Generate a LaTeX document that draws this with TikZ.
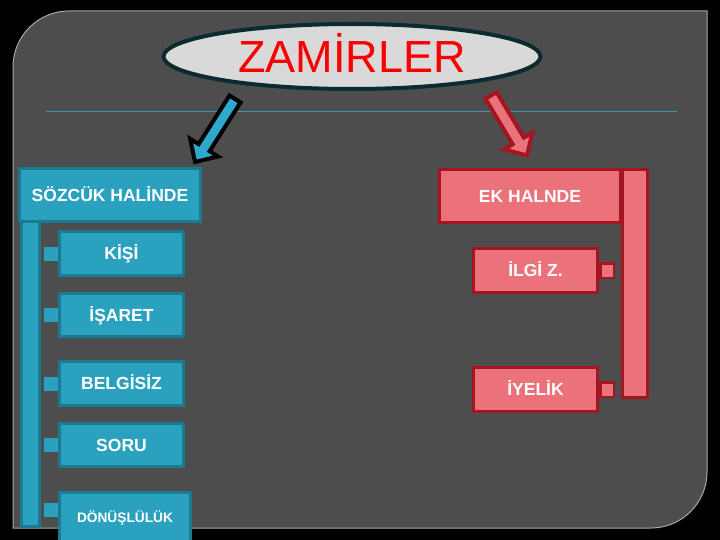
\documentclass[tikz,border=0pt]{standalone}
\usepackage{fontspec}
\setmainfont{Liberation Sans}
\usetikzlibrary{calc,shapes.geometric}
\definecolor{panelgray}{HTML}{4D4D4D}
\definecolor{panelline}{HTML}{A8A8A8}
\definecolor{tealfill}{HTML}{2BA1C0}
\definecolor{tealborder}{HTML}{1D7892}
\definecolor{pinkfill}{HTML}{EB717A}
\definecolor{redborder}{HTML}{A31621}
\definecolor{ellfill}{HTML}{D9D9D9}
\definecolor{ellborder}{HTML}{0D2A30}
\definecolor{arrowblue}{HTML}{2EA8CC}
\definecolor{hlinecol}{HTML}{3C97A6}
\definecolor{titlered}{HTML}{FA0000}
\begin{document}
\begin{tikzpicture}[x=1pt,y=-1pt,
  panel/.style={fill=panelgray,draw=panelline,line width=1pt},
  hline/.style={draw=hlinecol,line width=1pt},
  titleell/.style={ellipse,fill=ellfill,draw=ellborder,line width=4pt,
    minimum width=377pt,minimum height=65pt,inner sep=0pt,
    text=titlered,font=\fontsize{45}{50}\selectfont,text height=32pt,text depth=0pt},
  boxtext/.style={text=white,inner sep=0pt,text depth=0pt,
    font=\fontsize{17.5}{20}\selectfont\bfseries,text height=12.5pt},
  tealbox/.style={boxtext,fill=tealfill,draw=tealborder,line width=3pt},
  pinkbox/.style={boxtext,fill=pinkfill,draw=redborder,line width=3pt},
  tealbar/.style={fill=tealfill,draw=tealborder,line width=3pt},
  pinkbar/.style={fill=pinkfill,draw=redborder,line width=3pt},
  lsq/.style={fill=tealfill,inner sep=0pt,minimum width=14pt,minimum height=14pt},
  rsq/.style={fill=pinkfill,draw=redborder,line width=2.5pt,inner sep=0pt,
    minimum width=13.5pt,minimum height=14.5pt},
  arrL/.style={fill=arrowblue,draw=black,line width=4pt,line join=miter},
  arrR/.style={fill=pinkfill,draw=redborder,line width=4pt,line join=miter}
]
\clip (0,0) rectangle (720,540);
\fill[black] (0,0) rectangle (720,540);
% panel
\draw[panel] (13,528) -- (13,67) .. controls (13,36.1) and (38.1,11) .. (69,11)
  -- (707,11) -- (707,472) .. controls (707,502.9) and (681.9,528) .. (651,528) -- cycle;
\draw[hline] (46,112) -- (677,112);

% title
\node[titleell] (title) at (352,56.5) {ZAMİRLER};

% left column
\draw[tealbar] (21.5,222) rectangle (39.5,526);
\node[tealbox,minimum width=181pt,minimum height=53pt] (soz) at (110,195) {SÖZCÜK HALİNDE};
\node[tealbox,minimum width=124pt,minimum height=44pt] (kisi) at (121.5,253.5) {KİŞİ};
\node[tealbox,minimum width=124pt,minimum height=43pt] (isaret) at (121.5,315) {İŞARET};
\node[tealbox,minimum width=124pt,minimum height=44pt] (belgisiz) at (121.5,383.5) {BELGİSİZ};
\node[tealbox,minimum width=124pt,minimum height=43pt] (soru) at (121.5,445) {SORU};
\node[tealbox,minimum width=131pt,minimum height=51pt,
  font=\fontsize{13.7}{16}\selectfont\bfseries,text height=9.8pt] (donus) at (125,518) {DÖNÜŞLÜLÜK};
\node[lsq,anchor=east] (sq1) at (kisi.west) {};
\node[lsq,anchor=east] (sq2) at (isaret.west) {};
\node[lsq,anchor=east] (sq3) at (belgisiz.west) {};
\node[lsq,anchor=east] (sq4) at (soru.west) {};
\node[lsq,anchor=east] (sq5) at ([yshift=8pt]donus.west) {};

% right column
\draw[pinkbar] (622.5,169.5) rectangle (647.5,397.5);
\node[pinkbox,minimum width=181pt,minimum height=53pt] (ek) at (530,196) {EK HALNDE};
\node[pinkbox,minimum width=124pt,minimum height=44pt] (ilgi) at (535.5,270.5) {İLGİ Z.};
\node[pinkbox,minimum width=124pt,minimum height=44pt] (iyelik) at (535.5,389.5) {İYELİK};
\node[rsq,anchor=west] (rsq1) at (ilgi.east) {};
\node[rsq,anchor=west] (rsq2) at (iyelik.east) {};

% arrows
\coordinate (lat) at (235,99);
\coordinate (lap) at (195,162);
\coordinate (lab) at ($(lap)!17pt!(lat)$);
\draw[arrL] ($(lat)!6.5pt!90:(lap)$) -- ($(lab)!6.5pt!-90:(lat)$) -- ($(lab)!16.5pt!-90:(lat)$)
  -- (lap) -- ($(lab)!16.5pt!90:(lat)$) -- ($(lab)!6.5pt!90:(lat)$) -- ($(lat)!6.5pt!-90:(lap)$) -- cycle;
\coordinate (rat) at (491,95.5);
\coordinate (rap) at (527,155.5);
\coordinate (rab) at ($(rap)!17pt!(rat)$);
\draw[arrR] ($(rat)!6.5pt!90:(rap)$) -- ($(rab)!6.5pt!-90:(rat)$) -- ($(rab)!16.5pt!-90:(rat)$)
  -- (rap) -- ($(rab)!16.5pt!90:(rat)$) -- ($(rab)!6.5pt!90:(rat)$) -- ($(rat)!6.5pt!-90:(rap)$) -- cycle;
\end{tikzpicture}
\end{document}
